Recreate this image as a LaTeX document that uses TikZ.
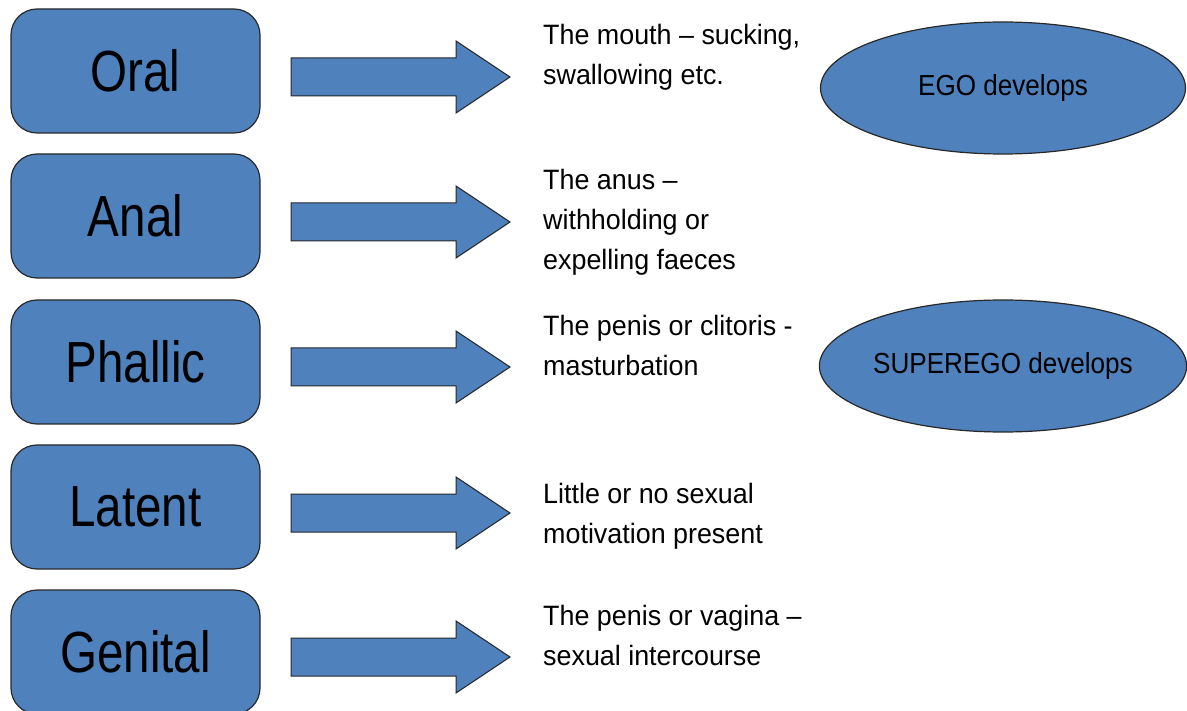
\documentclass[tikz,border=0pt]{standalone}
\usepackage{fontspec}
\setmainfont{Liberation Sans}
\newfontfamily\boxfont[FakeStretch=0.82]{Liberation Sans}
\newfontfamily\ellfont[FakeStretch=0.9]{Liberation Sans}
\newfontfamily\descfont[FakeStretch=0.96]{Liberation Sans}
\usetikzlibrary{shapes.geometric}
\definecolor{officeblue}{RGB}{79,129,189}
\definecolor{edgegray}{RGB}{40,40,40}
\tikzset{
  stagebox/.style={draw=edgegray, line width=1.2pt, fill=officeblue, rounded corners=26pt,
    minimum width=249pt, minimum height=124pt, inner sep=0pt,
    font=\boxfont\fontsize{58}{60}\selectfont},
  blockarrow/.style={draw=edgegray, line width=1pt, fill=officeblue},
  desc/.style={anchor=base west, align=left, inner sep=0pt,
    font=\descfont\fontsize{28}{40}\selectfont},
  egobubble/.style={ellipse, draw=edgegray, line width=1.2pt, fill=officeblue,
    minimum width=365pt, minimum height=132pt, inner sep=0pt,
    font=\ellfont\fontsize{29}{32}\selectfont}
}
\begin{document}
\begin{tikzpicture}[x=1pt,y=-1pt]
\useasboundingbox (0,0) rectangle (1187,711);
% stage boxes
\node[stagebox] (oral)    at (135.5,71)  {Oral};
\node[stagebox] (anal)    at (135.5,216) {Anal};
\node[stagebox] (phallic) at (135.5,362) {Phallic};
\node[stagebox] (latent)  at (135.5,507) {Latent};
\node[stagebox] (genital) at (135.5,652) {Genital};
% block arrows
\foreach \c/\n in {77/a1,222/a2,367/a3,513/a4,657/a5}{
  \coordinate (\n) at (291,\c);
  \draw[blockarrow] (\n) ++(0,-19) -- ++(165,0) -- ++(0,-17) -- ++(54,36) -- ++(-54,36) -- ++(0,-17) -- ++(-165,0) -- cycle;
}
% descriptions (anchored at the baseline of the last line)
\node[desc] (d1) at (543,85)  {The mouth – sucking,\\swallowing etc.};
\node[desc] (d2) at (543,270) {The anus –\\withholding or\\expelling faeces};
\node[desc] (d3) at (543,376) {The penis or clitoris -\\masturbation};
\node[desc] (d4) at (543,543) {Little or no sexual\\motivation present};
\node[desc] (d5) at (543,665) {The penis or vagina –\\sexual intercourse};
% ellipses
\node[egobubble] (ego)      at (1003,88)  {EGO develops};
\node[egobubble] (superego) at (1003,366) {SUPEREGO develops};
\end{tikzpicture}
\end{document}
